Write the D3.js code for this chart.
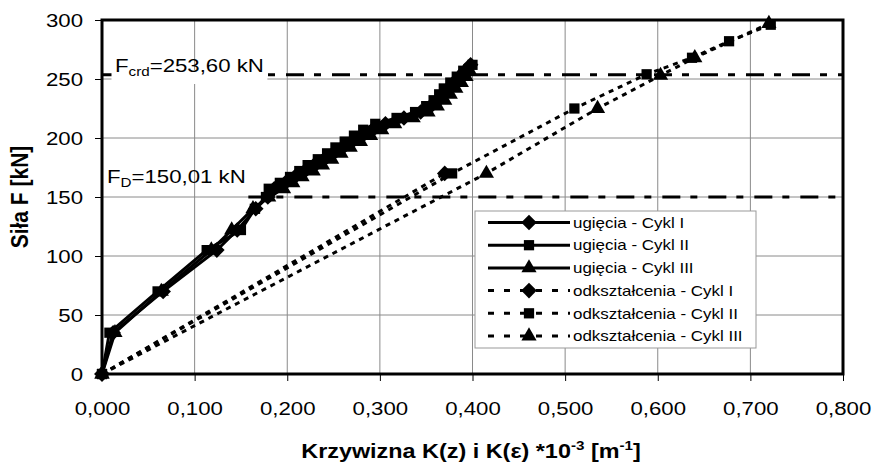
<!DOCTYPE html>
<html>
<head>
<meta charset="utf-8">
<script src="https://cdn.jsdelivr.net/npm/d3@7"></script>
<style>
  body { margin: 0; background: #fff; }
  text { font-family: "Liberation Sans", Arial, sans-serif; }
</style>
</head>
<body>
<div id="chart"></div>
<script>
// axis ticks
var xTicks = [0, 0.1, 0.2, 0.3, 0.4, 0.5, 0.6, 0.7, 0.8];
var yTicks = [0, 50, 100, 150, 200, 250, 300];

// ugiecia (deflection based curvature)
var ugF   = [0, 35, 70, 105, 122, 140, 150, 157, 162, 167, 172, 177, 182, 187, 192, 197, 202, 207, 212, 217, 222, 227, 232, 237, 242, 247, 252, 257, 262];
var ugK1  = [0, 0.012, 0.066, 0.124, 0.146, 0.166, 0.179, 0.186, 0.198, 0.208, 0.219, 0.229, 0.240, 0.250, 0.260, 0.270, 0.281, 0.292, 0.306, 0.326, 0.344, 0.355, 0.362, 0.368, 0.374, 0.380, 0.386, 0.392, 0.398];
var ugK2  = [0, 0.008, 0.060, 0.113, 0.150, 0.165, 0.177, 0.180, 0.192, 0.203, 0.213, 0.222, 0.233, 0.243, 0.252, 0.262, 0.272, 0.282, 0.295, 0.318, 0.338, 0.350, 0.358, 0.364, 0.369, 0.376, 0.383, 0.390, 0.400];
var ugK3  = [0, 0.014, 0.064, 0.118, 0.140, 0.163, 0.180, 0.196, 0.206, 0.216, 0.228, 0.238, 0.248, 0.258, 0.268, 0.279, 0.290, 0.302, 0.316, 0.336, 0.352, 0.362, 0.370, 0.376, 0.382, 0.388, 0.393, 0.397];

// odksztalcenia (strain based curvature)
var odF1 = [0, 170];
var odK1 = [0, 0.370];
var odF2 = [0, 170, 225, 254, 268, 282, 296];
var odK2 = [0, 0.378, 0.510, 0.588, 0.637, 0.677, 0.722];
var odF3 = [0, 170, 225, 253, 268, 297];
var odK3 = [0, 0.415, 0.535, 0.603, 0.640, 0.720];

var seriesNames = ["ugięcia - Cykl I", "ugięcia - Cykl II", "ugięcia - Cykl III",
                   "odkształcenia - Cykl I", "odkształcenia - Cykl II", "odkształcenia - Cykl III"];

// reference loads
var fCrd = 253.60;
var fD = 150.01;

var zip = function(ks, fs) {
  return ks.map(function(k, i) { return { K: k, F: fs[i] }; });
};

// square turned 45 degrees, like the Excel diamond marker
var wideDiamond = {
  draw: function(context, size) {
    var r = Math.sqrt(size) / Math.SQRT2 * 1.1;
    context.moveTo(0, -r);
    context.lineTo(r, 0);
    context.lineTo(0, r);
    context.lineTo(-r, 0);
    context.closePath();
  }
};

var series = [
  { name: seriesNames[0], sym: wideDiamond, dashed: false, values: zip(ugK1, ugF) },
  { name: seriesNames[1], sym: d3.symbolSquare, dashed: false, values: zip(ugK2, ugF) },
  { name: seriesNames[2], sym: d3.symbolTriangle, dashed: false, values: zip(ugK3, ugF) },
  { name: seriesNames[3], sym: wideDiamond, dashed: true, values: zip(odK1, odF1) },
  { name: seriesNames[4], sym: d3.symbolSquare, dashed: true, values: zip(odK2, odF2) },
  { name: seriesNames[5], sym: d3.symbolTriangle, dashed: true, values: zip(odK3, odF3) }
];

var symSize = function(s) {
  if (s === d3.symbolSquare) return 105;
  if (s === d3.symbolTriangle) return 100;
  return 100;
};

// the original picture is a bit wider than tall, so text is stretched sideways
var SX = 1.17;

var margin = { top: 20, right: 29, bottom: 89, left: 102 },
    width = 741,
    height = 354;

var svg = d3.select("#chart")
  .append("svg")
  .attr("width", 872)
  .attr("height", 463)
  .append("g")
  .attr("transform", "translate(" + margin.left + "," + margin.top + ")");

var x = d3.scaleLinear().domain([0, 0.8]).range([0, width]);
var y = d3.scaleLinear().domain([0, 300]).range([height, 0]);

// gridlines
svg.selectAll("vgrid").data(xTicks.slice(1, -1)).enter()
  .append("line")
  .attr("x1", function(d) { return x(d); }).attr("x2", function(d) { return x(d); })
  .attr("y1", 0).attr("y2", height)
  .attr("stroke", "#8a8a8a").attr("stroke-width", 1);
svg.selectAll("hgrid").data(yTicks.slice(1, -1)).enter()
  .append("line")
  .attr("y1", function(d) { return y(d); }).attr("y2", function(d) { return y(d); })
  .attr("x1", 0).attr("x2", width)
  .attr("stroke", "#8a8a8a").attr("stroke-width", 1);

// axes
var xAxis = svg.append("g")
  .attr("transform", "translate(0," + height + ")")
  .call(d3.axisBottom(x).tickValues(xTicks).tickSize(7).tickPadding(21)
    .tickFormat(function(d) { return d3.format(".3f")(d).replace(".", ","); }));
var yAxis = svg.append("g")
  .call(d3.axisLeft(y).tickValues(yTicks).tickSize(7).tickPadding(12));

[xAxis, yAxis].forEach(function(a) {
  a.select(".domain").remove();
  a.selectAll("line").attr("stroke", "#000").attr("stroke-width", 1);
  a.selectAll("text").attr("fill", "#000")
    .style("font-size", "19px")
    .style("font-family", "'Liberation Sans', Arial, sans-serif")
    .attr("transform", "scale(" + SX + ",1)");
});
yAxis.selectAll("text").attr("x", -19 / SX).attr("dy", "0.34em");

// reference lines
var refDash = "18,10,7,11";
svg.append("line")
  .attr("x1", x(0)).attr("x2", x(0.8))
  .attr("y1", y(fCrd)).attr("y2", y(fCrd))
  .attr("stroke", "#000").attr("stroke-width", 3)
  .attr("stroke-dasharray", refDash);
svg.append("line")
  .attr("x1", x(0.158)).attr("x2", x(0.8))
  .attr("y1", y(fD)).attr("y2", y(fD))
  .attr("stroke", "#000").attr("stroke-width", 3)
  .attr("stroke-dasharray", refDash);

// series lines
var line = d3.line()
  .x(function(d) { return x(d.K); })
  .y(function(d) { return y(d.F); });

svg.selectAll("seriesLines")
  .data(series)
  .enter()
  .append("path")
    .attr("d", function(d) { return line(d.values); })
    .attr("fill", "none")
    .attr("stroke", "#000")
    .attr("stroke-width", 3)
    .attr("stroke-dasharray", function(d) { return d.dashed ? "5,5" : null; });

// markers
svg.selectAll("markerGroups")
  .data(series)
  .enter()
  .append("g")
  .selectAll("marks")
  .data(function(d) { return d.values.map(function(v) { return { v: v, sym: d.sym }; }); })
  .enter()
  .append("path")
    .attr("transform", function(d) { return "translate(" + x(d.v.K) + "," + y(d.v.F) + ")"; })
    .attr("d", function(d) { return d3.symbol().type(d.sym).size(symSize(d.sym))(); })
    .attr("fill", "#000");

// plot frame
svg.append("rect")
  .attr("x", 0).attr("y", 0)
  .attr("width", width).attr("height", height)
  .attr("fill", "none")
  .attr("stroke", "#000")
  .attr("stroke-width", 3);

// labels for reference lines
var crdG = svg.append("g")
  .attr("transform", "translate(" + (115 - margin.left) + "," + (72 - margin.top) + ") scale(" + SX + ",1)");
var crdBg = crdG.append("rect").attr("fill", "#fff");
var crdLabel = crdG.append("text").style("font-size", "19px");
crdLabel.append("tspan").text("F");
crdLabel.append("tspan").attr("dy", 4).style("font-size", "13px").text("crd");
crdLabel.append("tspan").attr("dy", -4).text("=253,60 kN");
var bb = crdLabel.node().getBBox();
crdBg.attr("x", -3).attr("y", -2)
  .attr("width", bb.width + 6).attr("height", 14);

var dG = svg.append("g")
  .attr("transform", "translate(" + (107 - margin.left) + "," + (183 - margin.top) + ") scale(" + SX + ",1)");
var dLabel = dG.append("text").style("font-size", "19px");
dLabel.append("tspan").text("F");
dLabel.append("tspan").attr("dy", 4).style("font-size", "13px").text("D");
dLabel.append("tspan").attr("dy", -4).text("=150,01 kN");

// legend
var legend = svg.append("g")
  .attr("transform", "translate(" + (475 - margin.left) + "," + (211 - margin.top) + ")");
legend.append("rect")
  .attr("width", 281).attr("height", 137)
  .attr("fill", "#fff")
  .attr("stroke", "#999")
  .attr("stroke-width", 1);

var rows = legend.selectAll("legendRows")
  .data(series)
  .enter()
  .append("g")
  .attr("transform", function(d, i) { return "translate(0," + (11.5 + i * 22.7) + ")"; });
rows.append("line")
  .attr("x1", 13).attr("x2", 95)
  .attr("stroke", "#000").attr("stroke-width", 3)
  .attr("stroke-dasharray", function(d) { return d.dashed ? "6,10" : null; });
rows.append("path")
  .attr("transform", "translate(54,0)")
  .attr("d", function(d) { return d3.symbol().type(d.sym).size(symSize(d.sym))(); })
  .attr("fill", "#000");
rows.append("text")
  .attr("transform", "translate(98,0) scale(" + SX + ",1)")
  .attr("dy", "0.36em")
  .style("font-size", "14.5px")
  .text(function(d) { return d.name; });

// axis titles
svg.append("text")
  .attr("transform", "translate(" + (471 - margin.left) + "," + (458 - margin.top) + ") scale(" + SX + ",1)")
  .attr("text-anchor", "middle")
  .style("font-size", "20px")
  .style("font-weight", "bold")
  .html("Krzywizna K(z) i K(ε) *10<tspan dy='-8' font-size='13px'>-3</tspan><tspan dy='8'> [m</tspan><tspan dy='-8' font-size='13px'>-1</tspan><tspan dy='8'>]</tspan>");

svg.append("text")
  .attr("transform", "translate(" + (28 - margin.left) + "," + (197 - margin.top) + ") scale(" + SX + ",1) rotate(-90)")
  .attr("text-anchor", "middle")
  .style("font-size", "21px")
  .style("font-weight", "bold")
  .text("Siła F [kN]");
</script>
</body>
</html>
